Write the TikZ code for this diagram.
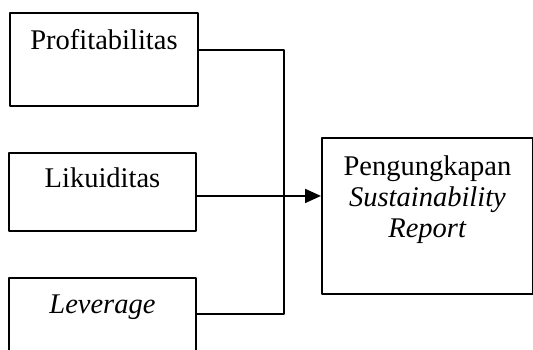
\documentclass[tikz,border=0pt]{standalone}
\usepackage{fontspec}
\setmainfont{Liberation Serif}
\usetikzlibrary{arrows.meta}

\begin{document}
\begin{tikzpicture}[x=1pt, y=-1pt, line join = round, line width=1.9pt,
    varbox/.style={draw, inner sep=0pt, anchor=north west, align=center,
        font=\fontsize{28.5}{31}\selectfont}]

                                \clip (0,0) rectangle (533,349);

                                % variabel independen
                                \node[varbox, minimum width=188pt, text height=37pt, text depth=56pt] (prof) at (9,12) {Profitabilitas};
                                \node[varbox, minimum width=187pt, text height=35pt, text depth=43pt] (lik) at (8,152) {Likuiditas};
                                \node[varbox, minimum width=187pt, text height=36pt, text depth=57pt] (lev) at (8,277) {\textit{Leverage}};

                                % variabel dependen
                                \node[varbox, minimum width=211pt, text height=38pt, text depth=118pt] (rep) at (321,137)
                                    {\begin{tabular}[t]{@{}c@{}}Pengungkapan\\ \textit{Sustainability}\\ \textit{Report}\end{tabular}};

                                \begin{scope}[line cap = round]

                                    \draw (prof.base east) -- ++(85,0) coordinate (join) |- (lev.base east);
                                    \draw[-{Triangle[length=16pt,width=14pt]}] ([yshift=-4pt]lik.east) -- ([yshift=-4pt]lik.east -| rep.west);

                                \end{scope}
                    \end{tikzpicture}
\end{document}
